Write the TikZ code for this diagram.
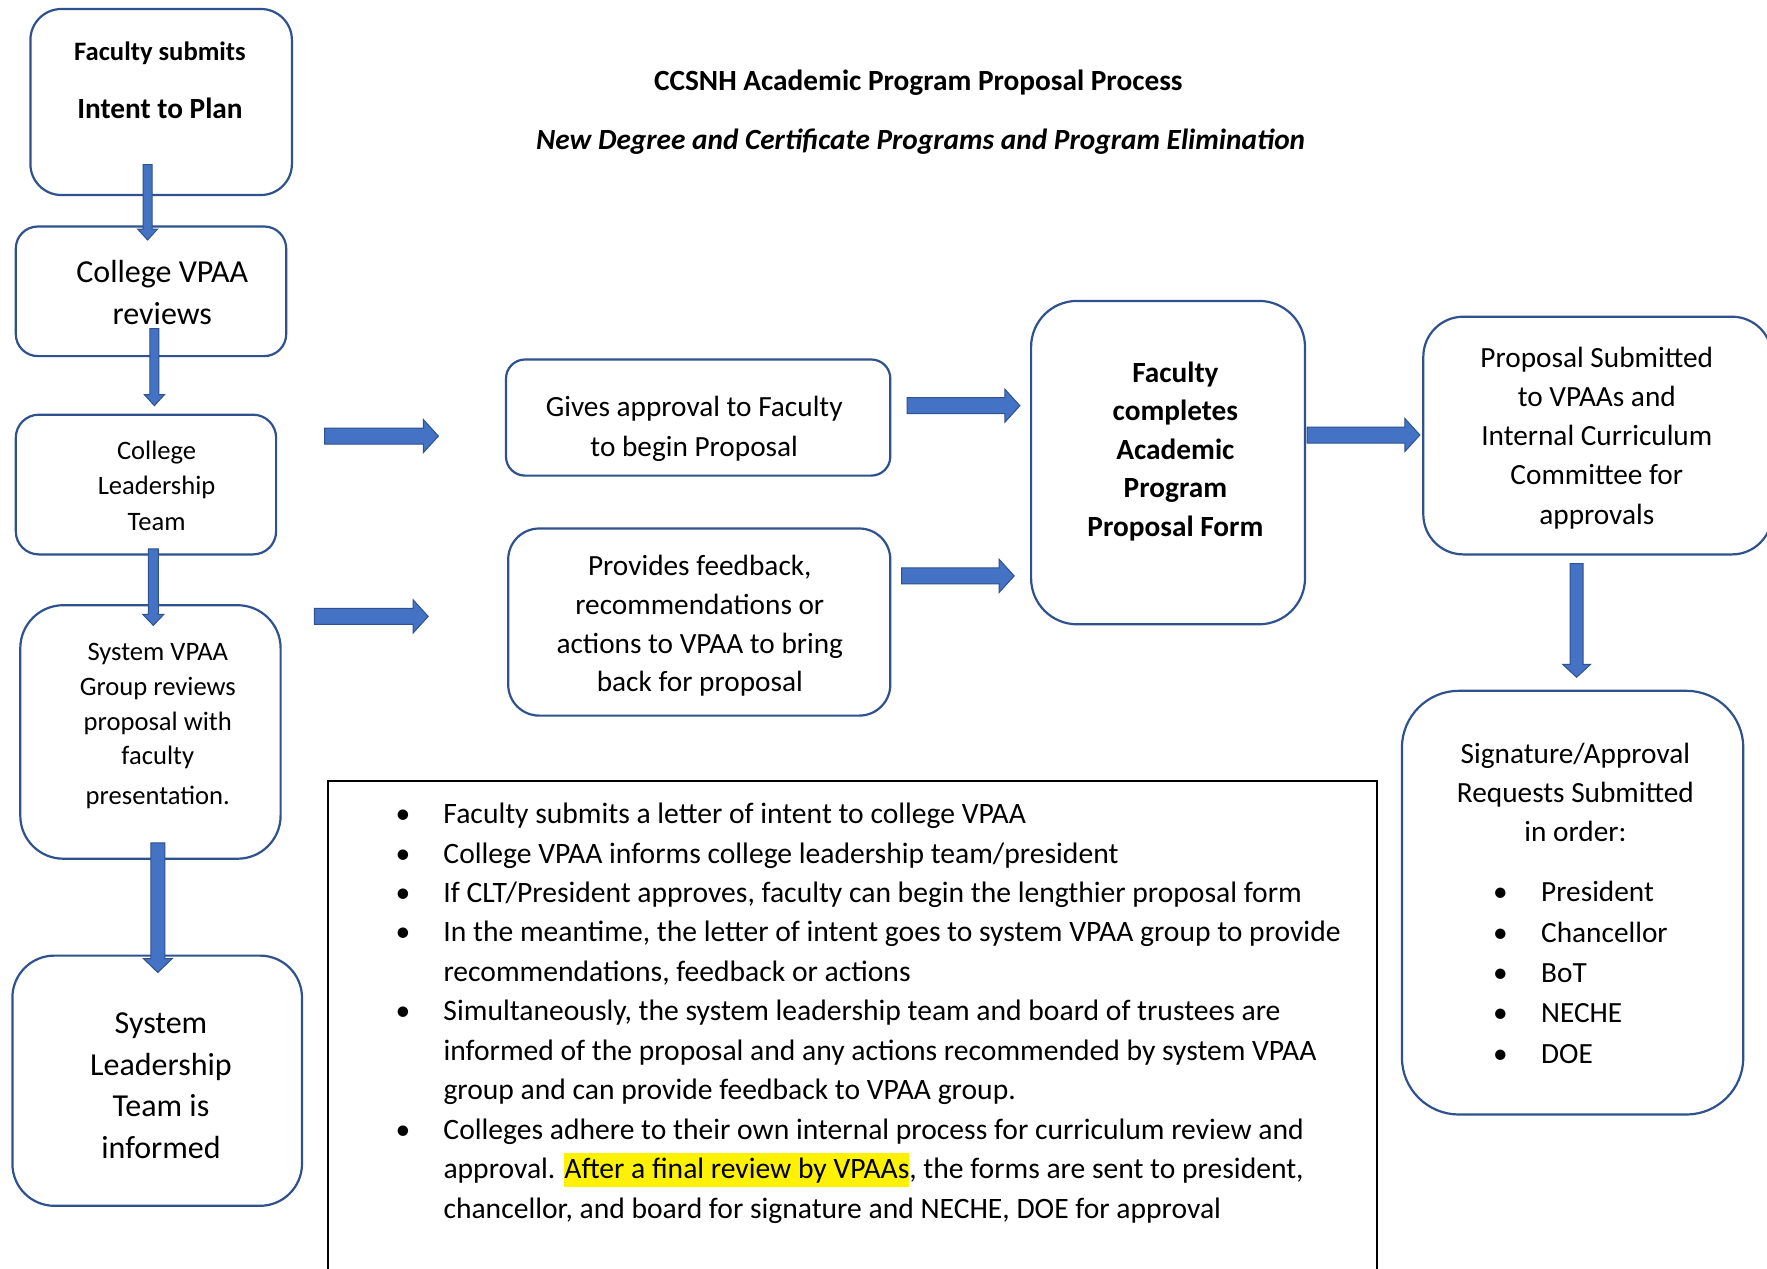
\documentclass[tikz,border=0pt]{standalone}
\usepackage{fontspec}
\setmainfont{Carlito}
\usetikzlibrary{calc}
\definecolor{boxblue}{HTML}{2F528F}
\definecolor{arrfill}{HTML}{4472C4}
\setlength{\fboxsep}{0pt}
\newcommand\blockarr[5]{%
  \coordinate (bah) at ($(#2)!#5!(#1)$);
  \filldraw[barrow] ($(#1)!#3!90:(#2)$) -- ($(bah)!#3!-90:(#1)$) -- ($(bah)!#4!-90:(#1)$) -- (#2)
    -- ($(bah)!#4!90:(#1)$) -- ($(bah)!#3!90:(#1)$) -- ($(#1)!#3!-90:(#2)$) -- cycle;
}
\tikzset{
  box/.style={draw=boxblue, line width=2.2pt, inner sep=0pt},
  barrow/.style={fill=arrfill, draw=boxblue, line width=1pt, line join=miter},
  txt/.style={inner sep=0pt, align=center, text=black, yshift=-2.3pt},
  txtb/.style={inner sep=0pt, align=center, text=black},
  fs/.style={font=\fontsize{29.3pt}{#1}\selectfont},
}
\begin{document}
\begin{tikzpicture}[x=1pt,y=-1pt]
\useasboundingbox (0,0) rectangle (1767,1269);
\fill[white] (0,0) rectangle (1767,1269);
\begin{scope}
\clip (0,0) rectangle (1767,1269);

% title
\node[txt, font=\fontsize{29.3pt}{35pt}\selectfont\bfseries] (title) at (918.4,80) {CCSNH Academic Program Proposal Process};
\node[txt, font=\fontsize{29.3pt}{35pt}\selectfont\bfseries\itshape] (subtitle) at (920.7,139.7) {New Degree and Certificate Programs and Program Elimination};

% left column boxes
\node[box, minimum width=261.5pt, minimum height=186pt, rounded corners=31pt] (b1) at (161.15,102) {};
\node[txtb, font=\fontsize{26.6pt}{32pt}\selectfont\bfseries] (b1ta) at (160,53) {Faculty submits};
\node[txtb, font=\fontsize{29.3pt}{35pt}\selectfont\bfseries] (b1tb) at (160,108.5) {Intent to Plan};

\node[box, minimum width=270.4pt, minimum height=129.6pt, rounded corners=22pt] (b2) at (151,291.3) {};
\node[txtb, font=\fontsize{32pt}{41.7pt}\selectfont] (b2t) at (162.3,292.5) {College VPAA\\reviews};

\node[box, minimum width=260.3pt, minimum height=139.7pt, rounded corners=23pt] (b3) at (145.95,484.55) {};
\node[txtb, font=\fontsize{26.6pt}{35.5pt}\selectfont] (b3t) at (156.6,485.5) {College\\Leadership\\Team};

\node[box, minimum width=260.3pt, minimum height=253.5pt, rounded corners=43pt] (b4) at (150.45,731.95) {};
\node[txt, font=\fontsize{26.6pt}{34.9pt}\selectfont] (b4t) at (157.8,723.5) {System VPAA\\Group reviews\\proposal with\\faculty\\[4.4pt]presentation.};

\node[box, minimum width=289.6pt, minimum height=250.2pt, rounded corners=42pt] (b5) at (157.2,1080.7) {};
\node[txt, font=\fontsize{32pt}{41.7pt}\selectfont] (b5t) at (161,1083.55) {System\\Leadership\\Team is\\informed};

% middle boxes
\node[box, minimum width=384.3pt, minimum height=116.1pt, rounded corners=19pt] (b6) at (698.15,417.55) {};
\node[txt, fs=39.5pt] (b6t) at (694.2,426.55) {Gives approval to Faculty\\to begin Proposal};

\node[box, minimum width=382.1pt, minimum height=187.1pt, rounded corners=31pt] (b7) at (699.25,622.05) {};
\node[txt, fs=38.7pt] (b7t) at (699.8,623.75) {Provides feedback,\\recommendations or\\actions to VPAA to bring\\back for proposal};

\node[box, minimum width=273.9pt, minimum height=323.4pt, rounded corners=46pt] (b8) at (1168.05,462.6) {};
\node[txt, font=\fontsize{29.3pt}{38.6pt}\selectfont\bfseries] (b8t) at (1175.4,449.1) {Faculty\\completes\\Academic\\Program\\Proposal Form};

% right boxes
\node[box, minimum width=348.7pt, minimum height=237.7pt, rounded corners=40pt] (b9) at (1597.65,435.55) {};
\node[txt, fs=39.2pt] (b9t) at (1596.8,435.55) {Proposal Submitted\\to VPAAs and\\Internal Curriculum\\Committee for\\approvals};

\node[box, minimum width=341.4pt, minimum height=423.7pt, rounded corners=57pt] (b10) at (1572.6,902.65) {};
\node[txtb, fs=38.9pt] (b10t) at (1575.4,792.8) {Signature/Approval\\Requests Submitted\\in order:};
\node[txtb, align=left, fs=40.3pt, anchor=west] (b10l) at (1493,972.5) {%
\makebox[48pt][l]{•}President\\
\makebox[48pt][l]{•}Chancellor\\
\makebox[48pt][l]{•}BoT\\
\makebox[48pt][l]{•}NECHE\\
\makebox[48pt][l]{•}DOE};

% notes rectangle
\node[draw=black, line width=1.4pt, minimum width=1049.2pt, minimum height=509pt, inner sep=0pt] (notes) at (852.5,1035.5) {};
\node[txt, align=left, font=\fontsize{29.6pt}{39.45pt}\selectfont, anchor=west] (notest) at (395.3,1010.85) {%
\makebox[48pt][l]{•}Faculty submits a letter of intent to college VPAA\\
\makebox[48pt][l]{•}College VPAA informs college leadership team/president\\
\makebox[48pt][l]{•}If CLT/President approves, faculty can begin the lengthier proposal form\\
\makebox[48pt][l]{•}In the meantime, the letter of intent goes to system VPAA group to provide\\
\hspace*{48pt}recommendations, feedback or actions\\
\makebox[48pt][l]{•}Simultaneously, the system leadership team and board of trustees are\\
\hspace*{48pt}informed of the proposal and any actions recommended by system VPAA\\
\hspace*{48pt}group and can provide feedback to VPAA group.\\
\makebox[48pt][l]{•}Colleges adhere to their own internal process for curriculum review and\\
\hspace*{48pt}approval. \colorbox{yellow}{\rule[-8.1pt]{0pt}{33.8pt}After a final review by VPAAs}, the forms are sent to president,\\
\hspace*{48pt}chancellor, and board for signature and NECHE, DOE for approval};

% arrow end points
\coordinate (a1s) at (147.6,164.5);  \coordinate (a1e) at (147.6,240);
\coordinate (a2s) at (154.4,328.5);  \coordinate (a2e) at (154.4,405.7);
\coordinate (a3s) at (153.3,548.8);  \coordinate (a3e) at (153.3,625.4);
\coordinate (a4s) at (157.8,842.9);  \coordinate (a4e) at (157.8,972.5);
\coordinate (a5s) at (324.5,436.1);  \coordinate (a5e) at (438.4,436.1);
\coordinate (a6s) at (314.4,616.4);  \coordinate (a6e) at (428.2,616.4);
\coordinate (a7s) at (907.2,405.7);  \coordinate (a7e) at (1019.9,405.7);
\coordinate (a8s) at (901.5,575.9);  \coordinate (a8e) at (1014.2,575.9);
\coordinate (a9s) at (1307.2,435);   \coordinate (a9e) at (1419.9,435);
\coordinate (a10s) at (1576.6,563.5); \coordinate (a10e) at (1576.6,677.3);

\blockarr{a1s}{a1e}{4.5pt}{10pt}{11pt}
\blockarr{a2s}{a2e}{4.5pt}{10pt}{11pt}
\blockarr{a3s}{a3e}{5pt}{10.5pt}{11pt}
\blockarr{a4s}{a4e}{7pt}{14.5pt}{14pt}
\blockarr{a5s}{a5e}{8pt}{16.5pt}{15pt}
\blockarr{a6s}{a6e}{8pt}{16.5pt}{15pt}
\blockarr{a7s}{a7e}{8pt}{16.5pt}{15pt}
\blockarr{a8s}{a8e}{8pt}{16.5pt}{15pt}
\blockarr{a9s}{a9e}{8pt}{16.5pt}{15pt}
\blockarr{a10s}{a10e}{6.5pt}{14pt}{13pt}
\end{scope}
\end{tikzpicture}
\end{document}
